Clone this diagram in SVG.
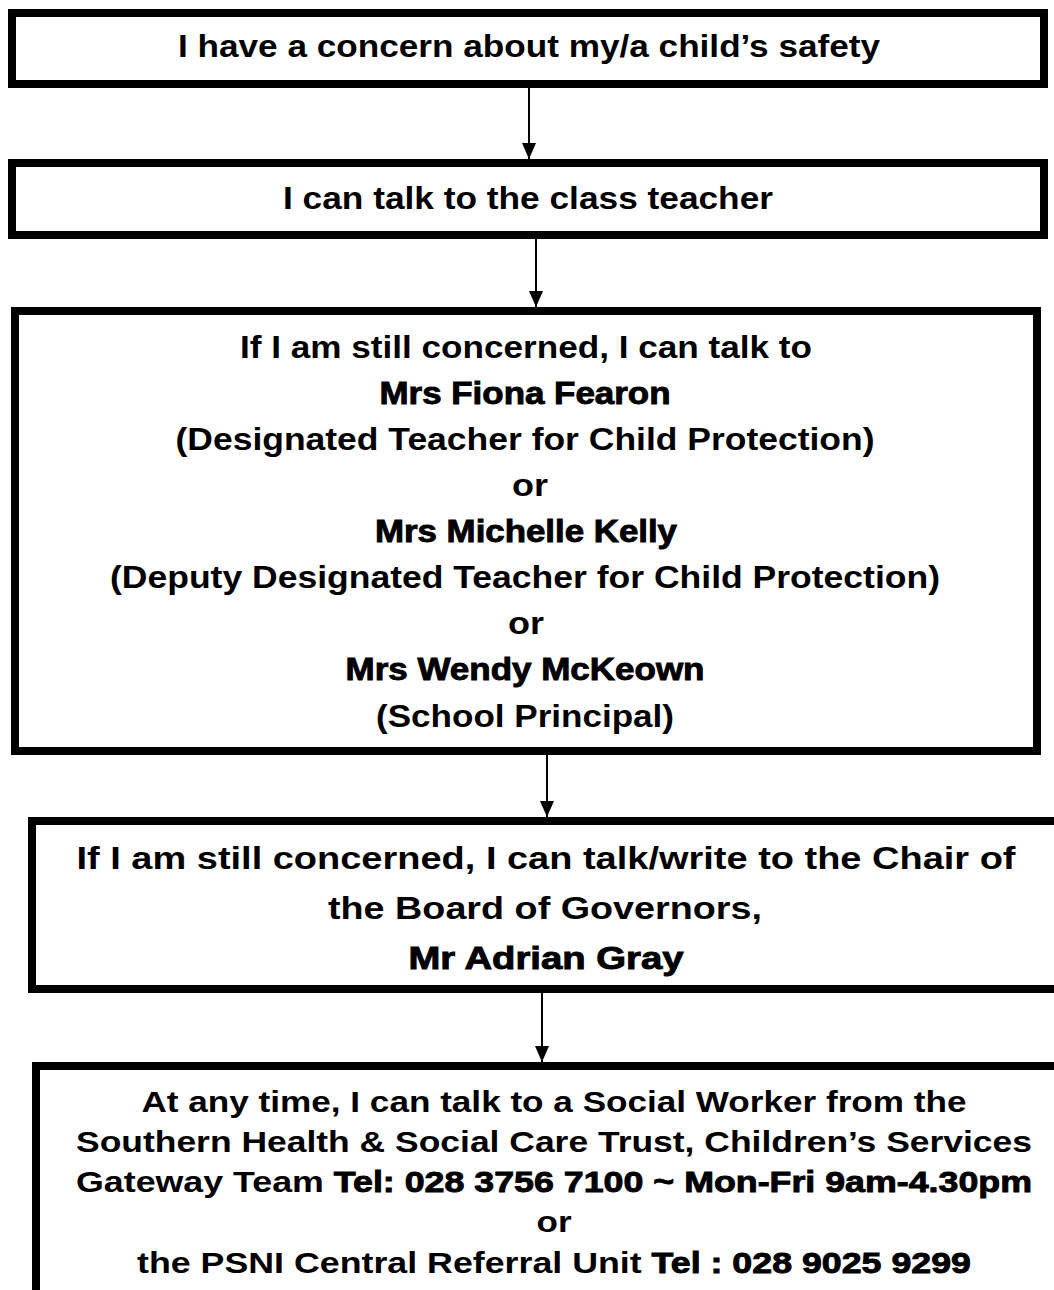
<svg xmlns="http://www.w3.org/2000/svg" width="1054" height="1290" viewBox="0 0 1054 1290">
<style>
.box{fill:#fff;stroke:#000;stroke-width:8}
.t{font-family:"Liberation Sans",Arial,sans-serif;font-weight:700;font-size:31px;fill:#000;text-anchor:middle}
.s{font-size:30px}
.h{stroke:#000;stroke-width:0.9}
.c{stroke:#000;stroke-width:2;fill:none}
</style>
<defs>
<marker id="ah" markerWidth="8" markerHeight="7" refX="8" refY="3.5" orient="auto" markerUnits="strokeWidth">
<path d="M0,0 L8,3.5 L0,7 Z" fill="#000"/>
</marker>
</defs>
<rect width="1054" height="1290" fill="#fff"/>
<g id="connectors">
<line class="c" x1="529" y1="88" x2="529" y2="159" marker-end="url(#ah)"/>
<line class="c" x1="536" y1="239" x2="536" y2="307" marker-end="url(#ah)"/>
<line class="c" x1="547" y1="755" x2="547" y2="817" marker-end="url(#ah)"/>
<line class="c" x1="542" y1="993" x2="542" y2="1062" marker-end="url(#ah)"/>
</g>
<g id="n1">
<rect class="box" x="12" y="13" width="1032" height="71"/>
<text class="t" x="529" y="57" textLength="702" lengthAdjust="spacingAndGlyphs">I have a concern about my/a child’s safety</text>
</g>
<g id="n2">
<rect class="box" x="12" y="163" width="1032" height="72"/>
<text class="t" x="528" y="209" textLength="490" lengthAdjust="spacingAndGlyphs">I can talk to the class teacher</text>
</g>
<g id="n3">
<rect class="box" x="15" y="311" width="1022" height="440"/>
<text class="t" x="526" y="358" textLength="572" lengthAdjust="spacingAndGlyphs">If I am still concerned, I can talk to</text>
<text class="t h" x="525" y="404" textLength="291" lengthAdjust="spacingAndGlyphs">Mrs Fiona Fearon</text>
<text class="t" x="525" y="450" textLength="699" lengthAdjust="spacingAndGlyphs">(Designated Teacher for Child Protection)</text>
<text class="t" x="530" y="496" textLength="36" lengthAdjust="spacingAndGlyphs">or</text>
<text class="t h" x="526" y="542" textLength="302" lengthAdjust="spacingAndGlyphs">Mrs Michelle Kelly</text>
<text class="t" x="525" y="588" textLength="830" lengthAdjust="spacingAndGlyphs">(Deputy Designated Teacher for Child Protection)</text>
<text class="t" x="526" y="634" textLength="36" lengthAdjust="spacingAndGlyphs">or</text>
<text class="t h" x="525" y="680" textLength="359" lengthAdjust="spacingAndGlyphs">Mrs Wendy McKeown</text>
<text class="t" x="525" y="727" textLength="298" lengthAdjust="spacingAndGlyphs">(School Principal)</text>
</g>
<g id="n4">
<rect class="box" x="32" y="821" width="1030" height="168"/>
<text class="t" x="546" y="869" textLength="939" lengthAdjust="spacingAndGlyphs">If I am still concerned, I can talk/write to the Chair of</text>
<text class="t" x="545" y="919" textLength="434" lengthAdjust="spacingAndGlyphs">the Board of Governors,</text>
<text class="t h" x="546" y="969" textLength="275" lengthAdjust="spacingAndGlyphs">Mr Adrian Gray</text>
</g>
<g id="n5">
<rect class="box" x="36" y="1066" width="1030" height="240"/>
<text class="t s" x="554" y="1112" textLength="825" lengthAdjust="spacingAndGlyphs">At any time, I can talk to a Social Worker from the</text>
<text class="t s" x="554" y="1152" textLength="956" lengthAdjust="spacingAndGlyphs">Southern Health &amp; Social Care Trust, Children’s Services</text>
<text class="t s" x="554" y="1192" textLength="956" lengthAdjust="spacingAndGlyphs">Gateway Team <tspan class="h">Tel: 028 3756 7100 ~ Mon-Fri 9am-4.30pm</tspan></text>
<text class="t s" x="554" y="1232" textLength="35" lengthAdjust="spacingAndGlyphs">or</text>
<text class="t s" x="554" y="1273" textLength="834" lengthAdjust="spacingAndGlyphs">the PSNI Central Referral Unit <tspan class="h">Tel : 028 9025 9299</tspan></text>
</g>
</svg>
